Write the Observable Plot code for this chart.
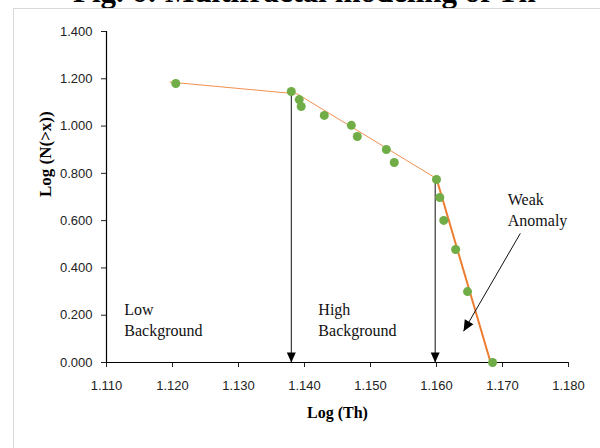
<!DOCTYPE html>
<html><head><meta charset="utf-8">
<script src="https://cdn.jsdelivr.net/npm/d3@7"></script>
<script src="https://cdn.jsdelivr.net/npm/@observablehq/plot@0.6"></script>
<style>
body{margin:0;background:#fff;}
#wrap{position:relative;width:600px;height:448px;overflow:hidden;background:#fff;}
#title{position:absolute;left:73px;top:-24px;font:bold 31px/31px "Liberation Serif","Times New Roman",serif;white-space:nowrap;color:#000;}
#frame{position:absolute;left:13px;top:8px;width:620px;height:480px;border-left:1px solid #d9d9d9;border-top:1px solid #d9d9d9;}
#chart{position:absolute;left:0;top:0;}
</style></head><body>
<div id="wrap"><div id="title">Fig. 6: Multifractal modeling of Th</div><div id="frame"></div><div id="chart"></div></div>
<script>
// observed points: Log(Th) vs Log(N(>x))
const logTh = [1.1205, 1.1380, 1.1392, 1.1395, 1.1430, 1.1471, 1.1480, 1.1524, 1.1536, 1.1600, 1.1605, 1.1611, 1.1629, 1.1647, 1.1685];
const logN  = [1.180, 1.146, 1.112, 1.083, 1.045, 1.003, 0.956, 0.901, 0.846, 0.774, 0.698, 0.601, 0.478, 0.300, 0.000];
// fitted segments (vertices)
const fitX = [1.1196, 1.1389, 1.1600, 1.1682];
const fitY = [1.186, 1.136, 0.778, 0.000];
// thresholds (vertical arrows)
const thresholdX = [1.1380, 1.1598];
const thresholdY = [1.145, 0.775];
// zone labels
const zoneLabels = ["Low\nBackground", "High\nBackground", "Weak\nAnomaly"];
const zoneX = [1.1127, 1.1421, 1.1708];
const zoneY = [0.186, 0.186, 0.649];
// weak anomaly pointer
const pointerX = [1.1727, 1.1641];
const pointerY = [0.546, 0.132];
// ticks
const xTicks = [1.11, 1.12, 1.13, 1.14, 1.15, 1.16, 1.17, 1.18];
const yTicks = [0, 0.2, 0.4, 0.6, 0.8, 1.0, 1.2, 1.4];
const xDomain = [1.11, 1.18];
const yDomain = [0, 1.4];

const W = 600, H = 448, mL = 106, mR = 32, mT = 31, mB = 86;
const pxX = (W - mL - mR) / (xDomain[1] - xDomain[0]);
const pxY = (H - mT - mB) / (yDomain[1] - yDomain[0]);

function arrowHead(angle, L, w) {
  const c = Math.cos(angle), s = Math.sin(angle);
  return {
    draw(ctx) {
      const bx = -L * c, by = -L * s;
      ctx.moveTo(0, 0);
      ctx.lineTo(bx - w * s, by + w * c);
      ctx.lineTo(bx + w * s, by - w * c);
      ctx.closePath();
    }
  };
}
const downHead = arrowHead(Math.PI / 2, 10, 4.5);
const pAngle = Math.atan2(-(pointerY[1] - pointerY[0]) * pxY, (pointerX[1] - pointerX[0]) * pxX);
const pointerHead = arrowHead(pAngle, 11, 5);

const serif = "'Liberation Serif','Times New Roman',serif";
const idx = (n) => d3.range(n);

const chart = Plot.plot({
  width: W, height: H,
  marginLeft: mL, marginRight: mR, marginTop: mT, marginBottom: mB,
  style: {fontFamily: "'Liberation Sans',Arial,sans-serif", fontSize: "13px", color: "#222", background: "transparent"},
  x: {domain: xDomain, ticks: xTicks, tickFormat: d3.format(".3f"), tickSize: 5, tickPadding: 13, label: null},
  y: {domain: yDomain, ticks: yTicks, tickFormat: d3.format(".3f"), tickSize: 5, tickPadding: 9, label: null},
  marks: [
    Plot.ruleY([0], {stroke: "#000", strokeWidth: 1.2}),
    Plot.ruleX([xDomain[0]], {stroke: "#000", strokeWidth: 1.2}),
    Plot.line(idx(3), {x: i => fitX[i], y: i => fitY[i], stroke: "#ED7D31", strokeWidth: 1, strokeOpacity: 0.85}),
    Plot.line([2, 3], {x: i => fitX[i], y: i => fitY[i], stroke: "#ED7D31", strokeWidth: 2}),
    Plot.link(idx(2), {x1: i => thresholdX[i], y1: i => thresholdY[i], x2: i => thresholdX[i], y2: 0, stroke: "#111", strokeWidth: 1}),
    Plot.dot(idx(2), {x: i => thresholdX[i], y: 0, symbol: downHead, fill: "#000", stroke: "none", r: 5}),
    Plot.link([0], {x1: pointerX[0], y1: pointerY[0], x2: pointerX[1], y2: pointerY[1], stroke: "#111", strokeWidth: 1}),
    Plot.dot([0], {x: pointerX[1], y: pointerY[1], symbol: pointerHead, fill: "#000", stroke: "none", r: 5}),
    Plot.dot(idx(logTh.length), {x: i => logTh[i], y: i => logN[i], fill: "#70AD47", stroke: "none", r: 4.5}),
    Plot.text(zoneLabels, {x: (d, i) => zoneX[i], y: (d, i) => zoneY[i], text: d => d, textAnchor: "start", lineAnchor: "middle", lineHeight: 1.3, fontFamily: serif, fontSize: 16, fill: "#111"}),
    Plot.text(["Log (Th)"], {text: d => d, frameAnchor: "bottom", dy: 55, fontFamily: serif, fontWeight: "bold", fontSize: 16, fill: "#000"}),
    Plot.text(["Log (N(>x))"], {text: d => d, frameAnchor: "left", dx: -61, rotate: -90, fontFamily: serif, fontWeight: "bold", fontSize: 17, fill: "#000"})
  ]
});
document.getElementById("chart").appendChild(chart);
</script>
</body></html>
